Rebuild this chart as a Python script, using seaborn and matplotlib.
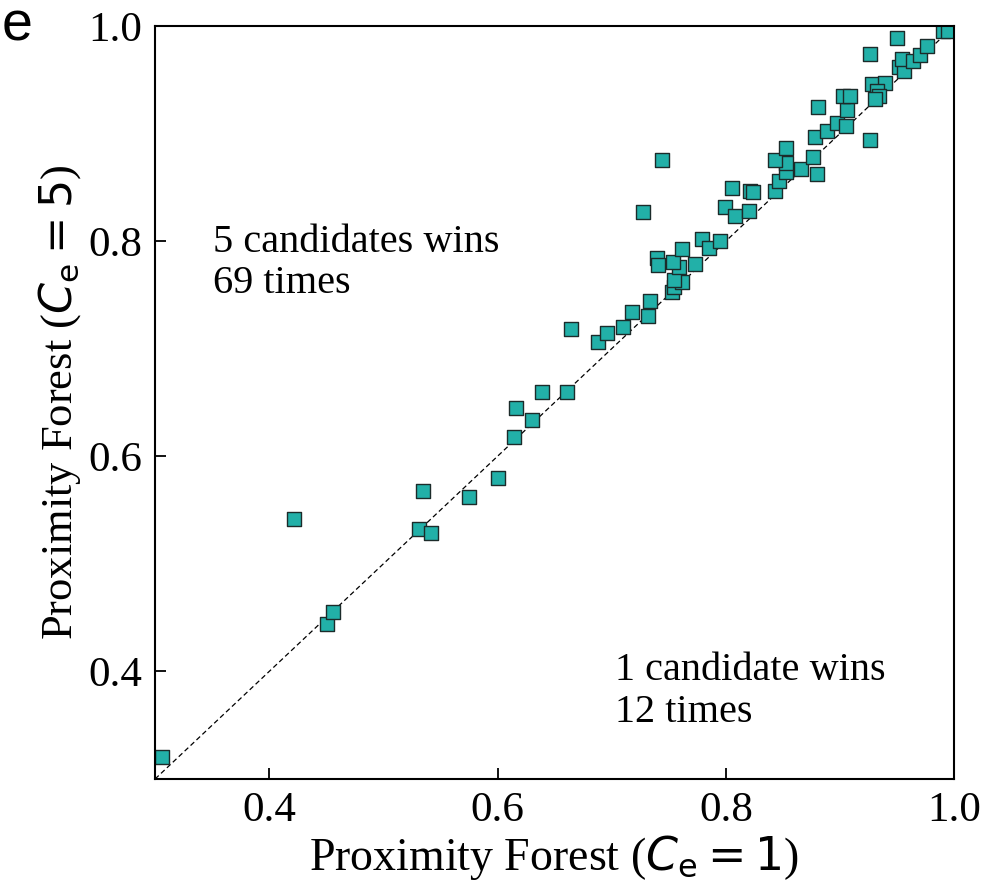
import numpy as np
import pandas as pd
import matplotlib
matplotlib.use("Agg")
import matplotlib.pyplot as plt
import seaborn as sns

# Accuracy per dataset: Proximity Forest with 1 candidate vs 5 candidates
acc_ce1 = [0.306, 0.451, 0.456, 0.422, 0.535, 0.531, 0.542, 0.575, 0.600, 0.614,
           0.616, 0.630, 0.639, 0.661, 0.664, 0.688, 0.696, 0.710, 0.718, 0.732,
           0.734, 0.727, 0.744, 0.753, 0.755, 0.762, 0.755, 0.759, 0.740, 0.741,
           0.754, 0.762, 0.773, 0.779, 0.785, 0.795, 0.799, 0.808, 0.820, 0.805,
           0.821, 0.824, 0.843, 0.847, 0.853, 0.866, 0.880, 0.853, 0.843, 0.853,
           0.876, 0.878, 0.889, 0.897, 0.905, 0.881, 0.906, 0.903, 0.909, 0.926,
           0.926, 0.950, 0.928, 0.939, 0.932, 0.934, 0.931, 0.952, 0.956, 0.954,
           0.964, 0.970, 0.976, 0.990, 0.995]
acc_ce5 = [0.320, 0.444, 0.455, 0.542, 0.568, 0.532, 0.529, 0.562, 0.580, 0.618,
           0.645, 0.634, 0.660, 0.660, 0.718, 0.706, 0.715, 0.720, 0.734, 0.730,
           0.744, 0.827, 0.875, 0.753, 0.757, 0.762, 0.764, 0.776, 0.784, 0.778,
           0.781, 0.793, 0.779, 0.802, 0.794, 0.800, 0.832, 0.823, 0.828, 0.849,
           0.847, 0.846, 0.847, 0.856, 0.864, 0.867, 0.862, 0.873, 0.875, 0.887,
           0.878, 0.897, 0.902, 0.910, 0.907, 0.925, 0.922, 0.935, 0.935, 0.894,
           0.974, 0.989, 0.946, 0.947, 0.940, 0.935, 0.932, 0.962, 0.958, 0.969,
           0.967, 0.973, 0.981, 0.995, 0.995]

ticks = [0.4, 0.6, 0.8, 1.0]
tick_labels = ["0.4", "0.6", "0.8", "1.0"]
lims = (0.3, 1.0)

df = pd.DataFrame({"ce1": acc_ce1, "ce5": acc_ce5})

sns.set_style("white")
plt.rcParams["font.family"] = ["Liberation Serif", "DejaVu Serif"]
plt.rcParams["mathtext.fontset"] = "dejavusans"
plt.rcParams["text.color"] = "black"
plt.rcParams["axes.labelcolor"] = "black"

fig = plt.figure(figsize=(10.07, 8.83), dpi=100)
ax = fig.add_axes([0.154, 0.1178, 0.7935, 0.8528])

# identity line
ax.plot(lims, lims, linestyle=(0, (4, 2.5)), color="black", linewidth=0.9, zorder=1)

sns.scatterplot(data=df, x="ce1", y="ce5", ax=ax, marker="s", s=105,
                color="#22b0a8", edgecolor="#1c2b2a", linewidth=1.0, zorder=2)

ax.set_xlim(lims)
ax.set_ylim(lims)
ax.set_xticks(ticks)
ax.set_xticklabels(tick_labels)
ax.set_yticks(ticks)
ax.set_yticklabels(tick_labels)
ax.tick_params(direction="in", length=8, width=1.3, labelsize=31, pad=9,
               top=False, right=False, bottom=True, left=True,
               colors="black", labelcolor="black")
for sp in ax.spines.values():
    sp.set_color("black")
    sp.set_linewidth(1.5)

ax.set_xlabel(r"Proximity Forest ($C_\mathrm{e} = 1$)", fontsize=33, labelpad=2)
ax.set_ylabel(r"Proximity Forest ($C_\mathrm{e} = 5$)", fontsize=32, labelpad=4)

ax.text(0.351, 0.752, "5 candidates wins\n69 times", fontsize=29,
        ha="left", va="baseline", linespacing=1.12)
ax.text(0.703, 0.353, "1 candidate wins\n12 times", fontsize=29,
        ha="left", va="baseline", linespacing=1.18)

fig.text(0.002, 0.999, "e", fontsize=40, family="Liberation Sans",
         ha="left", va="top")

fig.savefig("out.png", dpi=100, facecolor="white")
